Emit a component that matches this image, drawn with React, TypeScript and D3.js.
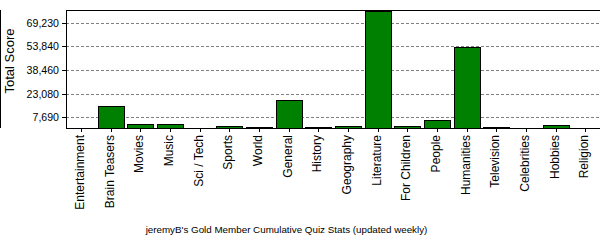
import React from "react";
import * as d3 from "d3";

const categories = [
  "Entertainment", "Brain Teasers", "Movies", "Music", "Sci / Tech", "Sports",
  "World", "General", "History", "Geography", "Literature", "For Children",
  "People", "Humanities", "Television", "Celebrities", "Hobbies", "Religion",
];
const scores = [
  0, 15000, 3100, 3100, 0, 1800,
  1200, 18900, 1200, 1900, 76923, 1900,
  5900, 53400, 1200, 0, 2600, 0,
];
const yTicks = [7690, 23080, 38460, 53840, 69230];
const yMax = 76923;
const title = "jeremyB's Gold Member Cumulative Quiz Stats (updated weekly)";
const yTitle = "Total Score";

const W = 600, H = 240;
const L = 66, R = 600, T = 10, B = 128.5;
const font = "'Liberation Sans', Arial, sans-serif";

export default function App() {
  const x = d3.scaleBand<string>().domain(categories).range([L, R]).paddingInner(0.14).paddingOuter(0.07);
  const y = d3.scaleLinear().domain([0, yMax]).range([129.2, 10.8]);
  const fmt = d3.format(",");
  return (
    <svg width={W} height={H} style={{ position: "absolute", left: 0, top: 0, display: "block" }}>
      <rect x={0} y={0} width={W} height={H} fill="#fff" />
      <line x1={0.5} x2={0.5} y1={10} y2={128} stroke="#000" />
      {yTicks.map((t) => (
        <g key={t}>
          <line x1={L} x2={R} y1={Math.round(y(t)) + 0.5} y2={Math.round(y(t)) + 0.5} stroke="#808080" strokeDasharray="3,2" />
          <line x1={62} x2={L} y1={Math.round(y(t)) + 0.5} y2={Math.round(y(t)) + 0.5} stroke="#000" />
          <text x={59} y={Math.round(y(t)) + 0.5} dy="0.35em" textAnchor="end" fontFamily={font} fontSize={10.6} fill="#000">
            {fmt(t)}
          </text>
        </g>
      ))}
      {categories.map((c, i) => {
        const v = scores[i];
        const bx = x(c)!;
        const top = y(v);
        return v > 0 ? (
          <rect key={c} x={Math.round(bx) + 0.5} y={Math.round(top) + 0.5} width={Math.round(x.bandwidth())}
            height={Math.max(0, B - Math.round(top) - 0.5)} fill="#008000" stroke="#000" />
        ) : null;
      })}
      <line x1={L} x2={R} y1={10.5} y2={10.5} stroke="#000" />
      <line x1={L + 0.5} x2={L + 0.5} y1={10} y2={B} stroke="#000" />
      <line x1={L} x2={R} y1={B} y2={B} stroke="#000" />
      {categories.map((c) => {
        const cx = Math.round(x(c)! + x.bandwidth() / 2) + 0.5;
        return (
          <g key={c}>
            <line x1={cx} x2={cx} y1={B} y2={132} stroke="#000" />
            <text transform={`translate(${cx - 2},135) rotate(-90)`} dy="0.35em" textAnchor="end"
              fontFamily={font} fontSize={12} fill="#000">{c}</text>
          </g>
        );
      })}
      <text transform="translate(9,61) rotate(-90)" dy="0.35em" textAnchor="middle" fontFamily={font} fontSize={13} fill="#000">
        {yTitle}
      </text>
      <text x={286.5} y={233} textAnchor="middle" fontFamily={font} fontSize={9.8} fill="#000">{title}</text>
    </svg>
  );
}
